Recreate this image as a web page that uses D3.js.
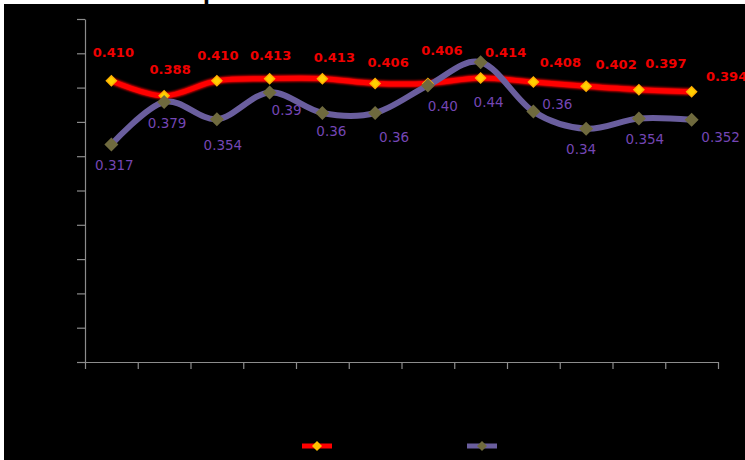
<!DOCTYPE html>
<html><head><meta charset="utf-8">
<script src="https://cdn.jsdelivr.net/npm/d3@7"></script>
<style>html,body{margin:0;padding:0;background:#fff;}svg{display:block;}</style>
</head><body>
<svg id="chart" width="745" height="460"></svg>
<script>
const categories = ["1","2","3","4","5","6","7","8","9","10","11","12"];
const redValues = [0.410,0.388,0.410,0.413,0.413,0.406,0.406,0.414,0.408,0.402,0.397,0.394];
const redLabels = ["0.410","0.388","0.410","0.413","0.413","0.406","0.406","0.414","0.408","0.402","0.397","0.394"];
const purpleValues = [0.317,0.379,0.354,0.393,0.363,0.363,0.403,0.437,0.365,0.340,0.355,0.353];
const purpleLabels = ["0.317","0.379","0.354","0.39","0.36","0.36","0.40","0.44","0.36","0.34","0.354","0.352"];
const yTicks = [0,0.05,0.10,0.15,0.20,0.25,0.30,0.35,0.40,0.45,0.50];

// layout (label placement offsets, as dragged in the original)
const redOff = [[2,-28],[6,-26],[1,-25],[1,-23],[12,-21],[13,-21],[14,-33],[25,-25],[27,-20],[30,-22],[27,-26],[35,-15]];
const purpleOff = [[3,20],[3,21],[6,26],[17,18],[9,18],[19,24],[15,20],[8,40],[24,-8],[-5,20],[6,21],[29,17]];

const svg = d3.select("#chart");
svg.append("rect").attr("x",4).attr("y",4).attr("width",741).attr("height",456).attr("fill","#000");
svg.append("text").attr("x",203).attr("y",0).attr("font-family","DejaVu Sans").attr("font-size",20)
  .attr("font-weight","bold").attr("fill","#000").text("p");

const x = d3.scaleBand().domain(categories).range([85,718]);
const y = d3.scaleLinear().domain([0,0.5]).range([362,19]);
const xEdge = d3.scaleLinear().domain([0,categories.length]).range(x.range());
const cx = c => x(c) + x.bandwidth()/2;

const axisColor = "#8c8c8c";
const gy = svg.append("g").attr("transform","translate(85,0)")
  .call(d3.axisLeft(y).tickValues(yTicks).tickSize(8).tickSizeOuter(0).tickFormat(""));
const gx = svg.append("g").attr("transform","translate(0,362)")
  .call(d3.axisBottom(xEdge).tickValues(d3.range(0,categories.length+1)).tickSize(7).tickSizeOuter(0).tickFormat(""));
[gx,gy].forEach(g=>{g.selectAll("path,line").attr("stroke",axisColor).attr("stroke-width",1.2);});

const line = d3.line().x((d,i)=>cx(categories[i])).y(d=>y(d)).curve(d3.curveCardinal.tension(0));

const defs = svg.append("defs");
const f = defs.append("filter").attr("id","glow").attr("x","-50%").attr("y","-50%").attr("width","200%").attr("height","200%");
f.append("feGaussianBlur").attr("stdDeviation",1.2);

function diamond(g, px, py, r, fill){
  g.append("path").attr("d",`M${px},${py-r}L${px+r},${py}L${px},${py+r}L${px-r},${py}Z`).attr("fill",fill);
}

// red series
svg.append("path").datum(redValues).attr("d",line).attr("fill","none").attr("stroke","#ff0000").attr("stroke-width",6.5).attr("filter","url(#glow)");
svg.append("path").datum(redValues).attr("d",line).attr("fill","none").attr("stroke","#ff0000").attr("stroke-width",5);
// purple series
svg.append("path").datum(purpleValues).attr("d",line).attr("fill","none").attr("stroke","#6a5e9e").attr("stroke-width",6);

const gm = svg.append("g");
redValues.forEach((v,i)=>{ diamond(gm, cx(categories[i]), y(v), 6, "#ffb000"); diamond(gm, cx(categories[i]), y(v), 4, "#ffd000"); });
purpleValues.forEach((v,i)=>{ diamond(gm, cx(categories[i]), y(v), 7, "#6f6a3e"); });

svg.append("g").selectAll("text").data(redValues).join("text")
  .attr("x",(d,i)=>cx(categories[i])+redOff[i][0]).attr("y",(d,i)=>y(d)+redOff[i][1])
  .attr("text-anchor","middle").attr("dominant-baseline","central")
  .attr("font-family","DejaVu Sans").attr("font-size",13).attr("font-weight","bold")
  .attr("fill","#f00000").text((d,i)=>redLabels[i]);
svg.append("g").selectAll("text").data(purpleValues).join("text")
  .attr("x",(d,i)=>cx(categories[i])+purpleOff[i][0]).attr("y",(d,i)=>y(d)+purpleOff[i][1])
  .attr("text-anchor","middle").attr("dominant-baseline","central")
  .attr("font-family","DejaVu Sans").attr("font-size",13.5)
  .attr("fill","#7446b4").text((d,i)=>purpleLabels[i]);

// legend
const lg = svg.append("g");
lg.append("line").attr("x1",302).attr("x2",332).attr("y1",446).attr("y2",446).attr("stroke","#ff0000").attr("stroke-width",5);
diamond(lg,317,446,5,"#ffc000");
lg.append("line").attr("x1",467).attr("x2",497).attr("y1",446).attr("y2",446).attr("stroke","#6a5e9e").attr("stroke-width",5);
diamond(lg,482,446,5,"#6f6a3e");
</script>
</body></html>
